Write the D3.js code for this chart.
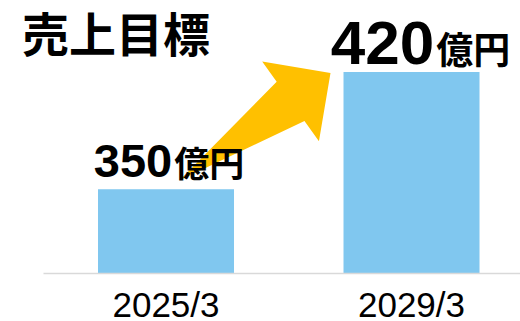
<!DOCTYPE html>
<html>
<head>
<meta charset="utf-8">
<script src="https://cdn.jsdelivr.net/npm/d3@7"></script>
<style>
  body { margin: 0; background: #fff; }
  svg { display: block; }
</style>
</head>
<body>
<svg id="chart"></svg>
<script>
// chart data
const title = "売上目標";
const periods = ["2025/3", "2029/3"];
const sales = [350, 420];
const unit = "億円";

function main() {

    let svg = d3.select("#chart");
    let canvasWidth = 520;
    let canvasHeight = 321;

    svg.attr("width", canvasWidth)
        .attr("height", canvasHeight);

    const baseline = 273;

    // band scale for the two periods
    let x = d3.scaleBand()
        .domain(periods)
        .range([43, 520])
        .paddingInner(0.446)
        .paddingOuter(0.1945)
        .align(0.576);

    // axis is cut, it does not start at zero
    let y = d3.scaleLinear()
        .domain([300, 420])
        .range([baseline, 72]);

    // yellow arrow between the two bars (drawn first, under the labels)
    let tail = [x(periods[0]) + x.bandwidth() * 0.6, y(sales[0]) - 9];
    let tip = [x(periods[1]) - 13, y(sales[1]) + 1];
    let dx = tip[0] - tail[0], dy = tip[1] - tail[1];
    let len = Math.sqrt(dx * dx + dy * dy);
    let ux = dx / len, uy = dy / len;
    let nx = -uy, ny = ux;
    let headLen = 49, headHalf = 49, shaftHalf = 24;
    function pt(t, s) { return [tail[0] + ux * t + nx * s, tail[1] + uy * t + ny * s]; }
    let arrowPts = [
        pt(0, 0),
        pt(len - headLen, -shaftHalf),
        pt(len - headLen, -headHalf),
        pt(len, 0),
        pt(len - headLen, headHalf),
        pt(len - headLen, shaftHalf)
    ];
    svg.append("polygon")
        .attr("points", arrowPts.map(p => p.join(",")).join(" "))
        .style("fill", "#ffc000");

    // bars
    svg.selectAll("rect.bar")
        .data(periods)
        .join("rect")
        .attr("class", "bar")
        .attr("x", d => x(d))
        .attr("y", (d, i) => y(sales[i]))
        .attr("width", x.bandwidth())
        .attr("height", (d, i) => baseline - y(sales[i]))
        .style("fill", "#80c7ef");

    // bottom axis
    let axis = svg.append("g")
        .attr("transform", `translate(0, ${baseline})`)
        .call(d3.axisBottom(x).tickSize(0).tickSizeOuter(0).tickPadding(19));
    axis.select(".domain")
        .attr("stroke", "#d9d9d9")
        .attr("stroke-width", 1.5);
    axis.selectAll("text")
        .attr("font-family", "'Liberation Sans', Arial, sans-serif")
        .attr("font-size", "35px")
        .attr("fill", "#000");

    // value labels: big number + unit
    const numSize = [47, 62];
    const unitSize = [35, 37];
    const labelGap = [12, 8];
    const labelShift = [3, 9];
    let labels = svg.selectAll("text.value")
        .data(periods)
        .join("text")
        .attr("class", "value")
        .attr("x", (d, i) => x(d) + x.bandwidth() / 2 + labelShift[i])
        .attr("y", (d, i) => y(sales[i]) - labelGap[i])
        .attr("text-anchor", "middle")
        .attr("font-weight", "bold")
        .attr("fill", "#000");
    labels.append("tspan")
        .attr("font-family", "'Liberation Sans', Arial, sans-serif")
        .attr("font-size", (d, i) => numSize[i] + "px")
        .text((d, i) => sales[i]);
    labels.append("tspan")
        .attr("font-family", "'Noto Sans CJK JP', sans-serif")
        .attr("font-size", (d, i) => unitSize[i] + "px")
        .attr("dx", 2)
        .text(unit);

    // title
    svg.append("text")
        .attr("x", 22)
        .attr("y", 52)
        .attr("font-family", "'Noto Sans CJK JP', sans-serif")
        .attr("font-weight", "bold")
        .attr("font-size", "47px")
        .attr("fill", "#000")
        .text(title);
}

main();
</script>
</body>
</html>
